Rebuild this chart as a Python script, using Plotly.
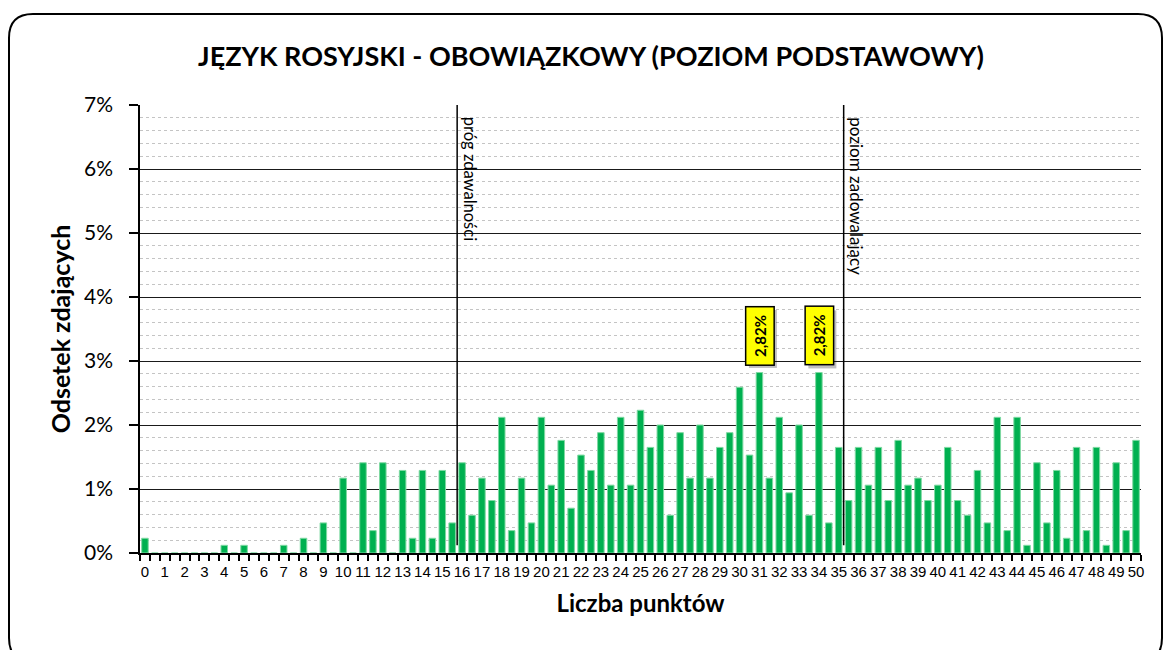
import plotly.graph_objects as go

# ---- data -------------------------------------------------------------
points = [0, 0.5, 1, 1.5, 2, 2.5, 3, 3.5, 4, 4.5, 5, 5.5, 6, 6.5, 7, 7.5, 8, 8.5, 9, 9.5,
          10, 10.5, 11, 11.5, 12, 12.5, 13, 13.5, 14, 14.5, 15, 15.5, 16, 16.5, 17, 17.5,
          18, 18.5, 19, 19.5, 20, 20.5, 21, 21.5, 22, 22.5, 23, 23.5, 24, 24.5, 25, 25.5,
          26, 26.5, 27, 27.5, 28, 28.5, 29, 29.5, 30, 30.5, 31, 31.5, 32, 32.5, 33, 33.5,
          34, 34.5, 35, 35.5, 36, 36.5, 37, 37.5, 38, 38.5, 39, 39.5, 40, 40.5, 41, 41.5,
          42, 42.5, 43, 43.5, 44, 44.5, 45, 45.5, 46, 46.5, 47, 47.5, 48, 48.5, 49, 49.5, 50]

percent = [0.23, 0, 0, 0, 0, 0, 0, 0, 0.12, 0, 0.12, 0, 0, 0, 0.12, 0, 0.23, 0, 0.47, 0,
           1.17, 0, 1.41, 0.35, 1.41, 0, 1.29, 0.23, 1.29, 0.23, 1.29, 0.47, 1.41, 0.59, 1.17, 0.82,
           2.12, 0.35, 1.17, 0.47, 2.12, 1.06, 1.76, 0.70, 1.53, 1.29, 1.88, 1.06, 2.12, 1.06, 2.23, 1.65,
           2.00, 0.59, 1.88, 1.17, 2.00, 1.17, 1.65, 1.88, 2.59, 1.53, 2.82, 1.17, 2.12, 0.94, 2.00, 0.59,
           2.82, 0.47, 1.65, 0.82, 1.65, 1.06, 1.65, 0.82, 1.76, 1.06, 1.17, 0.82, 1.06, 1.65, 0.82, 0.59,
           1.29, 0.47, 2.12, 0.35, 2.12, 0.12, 1.41, 0.47, 1.29, 0.23, 1.65, 0.35, 1.65, 0.12, 1.41, 0.35, 1.76]

tick_points = list(range(0, 51))
tick_labels = [str(v) for v in tick_points]
y_ticks = [0, 1, 2, 3, 4, 5, 6, 7]
y_labels = ["0%", "1%", "2%", "3%", "4%", "5%", "6%", "7%"]

threshold_pass = 15.75          # between 15,5 and 16
threshold_good = 35.25          # between 35 and 35,5
labelled_points = [31, 34]
labelled_texts = ["2,82%", "2,82%"]

title = "JĘZYK ROSYJSKI - OBOWIĄZKOWY (POZIOM PODSTAWOWY)"
x_title = "Liczba punktów"
y_title = "Odsetek zdających"

assert len(points) == len(percent) == 101

# ---- layout geometry ---------------------------------------------------
W, H = 1163, 650
L, R, T, B = 140, 22, 105, 97
PW, PH = W - L - R, H - T - B


def pxx(x):
    return (x - L) / PW


def pxy(y):
    return (H - B - y) / PH


SANS = "Lato, Carlito, Calibri, 'Open Sans', sans-serif"
NARROW = "'Liberation Sans Narrow', 'Arial Narrow', 'Liberation Sans', Arial, sans-serif"

fig = go.Figure()
fig.add_trace(go.Bar(
    x=points, y=percent,
    marker=dict(color="#00B050", line=dict(color="#7ED9A2", width=1)),
    width=0.33,
    hoverinfo="x+y",
))

# rounded outer frame
x0, y0, x1, y1, r = 9, 14, 1162, 662, 24
path = (f"M {pxx(x0 + r)},{pxy(y0)} L {pxx(x1 - r)},{pxy(y0)} "
        f"Q {pxx(x1)},{pxy(y0)} {pxx(x1)},{pxy(y0 + r)} "
        f"L {pxx(x1)},{pxy(y1 - r)} Q {pxx(x1)},{pxy(y1)} {pxx(x1 - r)},{pxy(y1)} "
        f"L {pxx(x0 + r)},{pxy(y1)} Q {pxx(x0)},{pxy(y1)} {pxx(x0)},{pxy(y1 - r)} "
        f"L {pxx(x0)},{pxy(y0 + r)} Q {pxx(x0)},{pxy(y0)} {pxx(x0 + r)},{pxy(y0)} Z")
shapes = [dict(type="path", xref="paper", yref="paper", path=path,
               line=dict(color="black", width=2), layer="below")]

for xv in (threshold_pass, threshold_good):
    shapes.append(dict(type="line", xref="x", yref="y", x0=xv, x1=xv, y0=0.12, y1=7,
                       line=dict(color="black", width=1.5)))

annotations = [
    dict(x=threshold_pass, y=7, xref="x", yref="y", text="próg zdawalności",
         textangle=90, showarrow=False, xanchor="center", yanchor="top",
         xshift=13, yshift=-10, font=dict(family=SANS, size=16.5, color="black")),
    dict(x=threshold_good, y=7, xref="x", yref="y", text="poziom zadowalający",
         textangle=90, showarrow=False, xanchor="center", yanchor="top",
         xshift=13, yshift=-10, font=dict(family=SANS, size=17, color="black")),
]

value_of = dict(zip(points, percent))
for xv, txt in zip(labelled_points, labelled_texts):
    yv = value_of[xv]
    annotations.append(dict(x=xv, y=yv, xref="x", yref="y", text=txt, textangle=-90,
                            showarrow=False, xanchor="center", yanchor="bottom",
                            xshift=3, yshift=4, width=55, height=25,
                            bgcolor="rgba(0,0,0,0.25)",
                            font=dict(family=SANS, size=15, color="rgba(0,0,0,0)")))
    annotations.append(dict(x=xv, y=yv, xref="x", yref="y", text=f"<b>{txt}</b>",
                            textangle=-90, showarrow=False, xanchor="center",
                            yanchor="bottom", yshift=7, width=55, height=25,
                            bgcolor="#FFFF00", bordercolor="black", borderwidth=1.5,
                            font=dict(family=SANS, size=15, color="black")))

fig.update_layout(
    width=W, height=H,
    margin=dict(l=L, r=R, t=T, b=B),
    paper_bgcolor="white", plot_bgcolor="white",
    showlegend=False,
    bargap=0.35,
    title=dict(text=f"<b>{title}</b>", x=591 / W, xref="container",
               xanchor="center", y=1 - 57 / H, yanchor="middle",
               font=dict(family=SANS, size=27, color="black")),
    shapes=shapes,
    annotations=annotations,
    xaxis=dict(
        range=[-0.25, 50.25],
        tickmode="array", tickvals=tick_points, ticktext=tick_labels,
        ticks="", showgrid=False, zeroline=False,
        showline=True, linecolor="black", linewidth=2,
        ticklabelstandoff=4,
        tickfont=dict(family=NARROW, size=15, color="black"),
        minor=dict(ticks="outside", tick0=0.25, dtick=0.5, ticklen=6,
                   tickcolor="black", tickwidth=1.5, showgrid=False),
        title=dict(text=f"<b>{x_title}</b>", standoff=16,
                   font=dict(family=SANS, size=24, color="black")),
    ),
    yaxis=dict(
        range=[0, 7],
        tickmode="array", tickvals=y_ticks, ticktext=y_labels,
        ticks="outside", ticklen=9, tickcolor="black", tickwidth=1.5,
        ticklabelstandoff=12,
        showgrid=True, gridcolor="#1a1a1a", gridwidth=1,
        zeroline=False,
        showline=True, linecolor="black", linewidth=1.5,
        tickfont=dict(family=SANS, size=21, color="black"),
        minor=dict(tick0=0, dtick=0.2, showgrid=True, gridcolor="#c4c4c4",
                   griddash="dot", gridwidth=1, ticks=""),
        title=dict(text=f"<b>{y_title}</b>", standoff=6,
                   font=dict(family=SANS, size=25, color="black")),
    ),
)

fig.write_html("out.html",
               config={"displayModeBar": False},
               post_script="document.body.style.margin='0';document.body.style.overflow='hidden';")
